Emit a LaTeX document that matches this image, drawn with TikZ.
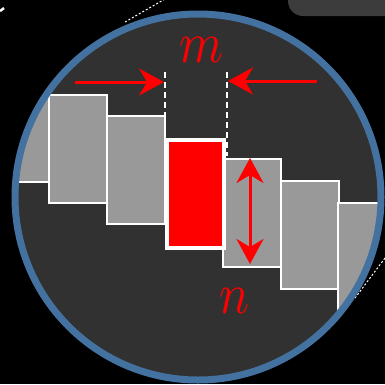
\documentclass[tikz,border=0pt]{standalone}
\usetikzlibrary{arrows.meta}
\definecolor{bgring}{HTML}{4472A0}
\definecolor{disc}{HTML}{313131}
\definecolor{bargray}{HTML}{999999}
\definecolor{tabgray}{HTML}{3C3C3C}
\begin{document}
\begin{tikzpicture}[x=1pt,y=-1pt,
  bar/.style={draw=white,line width=2pt,fill=bargray},
  redbar/.style={draw=white,line width=3.5pt,fill=red},
  guide/.style={draw=white,line width=2pt,dash pattern=on 6pt off 4pt},
  redarrow/.style={draw=red,line width=3pt,-{Stealth[length=25pt,width=27pt,inset=8pt]}},
  lab/.style={text=red,inner sep=0pt,anchor=base}
]
\fill[black] (0,0) rectangle (385,384);
\useasboundingbox (0,0) rectangle (385,384);
% top-right tab
\fill[tabgray,rounded corners=15pt] (288,-20) rectangle (400,16);
% callout lines
\draw[white,line width=1pt,dash pattern=on 2pt off 2pt] (125,22) -- (165,-1);
\draw[white,line width=1pt,dash pattern=on 2pt off 2pt] (355,298) -- (385,258);
\draw[white,line width=2.5pt] (0,11) -- (4,8);
% disc
\coordinate (c) at (198,197);
\fill[disc] (c) circle[radius=183];
\begin{scope}
\clip (c) circle[radius=180];
\node[bar,minimum width=58pt,minimum height=108pt,inner sep=0pt,anchor=north west] (b1) at (-10,73) {};
\node[bar,minimum width=58pt,minimum height=108pt,inner sep=0pt,anchor=north west] (b2) at (48,94) {};
\node[bar,minimum width=58pt,minimum height=108pt,inner sep=0pt,anchor=north west] (b3) at (106,115) {};
\node[bar,minimum width=58pt,minimum height=108pt,inner sep=0pt,anchor=north west] (b5) at (222,158) {};
\node[bar,minimum width=58pt,minimum height=108pt,inner sep=0pt,anchor=north west] (b6) at (280,180) {};
\node[bar,minimum width=58pt,minimum height=108pt,inner sep=0pt,anchor=north west] (b7) at (337,202) {};
\node[redbar,minimum width=57pt,minimum height=108pt,inner sep=0pt,anchor=north west] (b4) at (165,138) {};
\end{scope}
\draw[bgring,line width=7pt] (c) circle[radius=183];
% guides
\coordinate (gl) at (165,72);
\coordinate (gr) at (227,72);
\coordinate (glb) at (165,137);
\coordinate (grb) at (227,156);
\draw[guide] (gl) -- (glb);
\draw[guide] (gr) -- (grb);
% arrows
\coordinate (al) at (75,82);
\coordinate (alt) at (164,82);
\coordinate (ar) at (317,81);
\coordinate (art) at (228,81);
\draw[redarrow] (al) -- (alt);
\draw[redarrow] (ar) -- (art);
\coordinate (vt) at (250,158);
\coordinate (vb) at (250,264);
\draw[redarrow,{Stealth[length=25pt,width=27pt,inset=8pt]}-{Stealth[length=25pt,width=27pt,inset=8pt]}] (vt) -- (vb);
% labels
\node[lab] (m) at (201,62) {\scalebox{5}[5.8]{$m$}};
\node[lab] (n) at (235,313) {\scalebox{5}[5.8]{$n$}};
\end{tikzpicture}
\end{document}
